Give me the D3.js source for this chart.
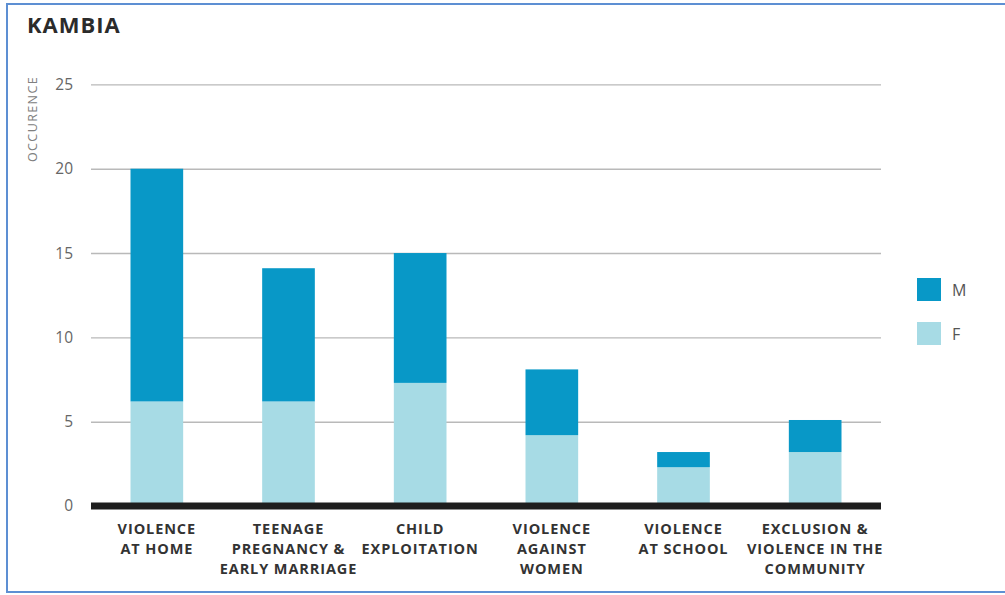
<!DOCTYPE html>
<html>
<head>
<meta charset="utf-8">
<script src="https://cdn.jsdelivr.net/npm/d3@7"></script>
<style>
  html, body { margin: 0; padding: 0; background: #fff; }
  svg { display: block; }
</style>
</head>
<body>
<svg id="chart" width="1005" height="595"></svg>
<script>
const title = "KAMBIA";
const yAxisLabel = "OCCURENCE";
const categories = [
  ["VIOLENCE", "AT HOME"],
  ["TEENAGE", "PREGNANCY &", "EARLY MARRIAGE"],
  ["CHILD", "EXPLOITATION"],
  ["VIOLENCE", "AGAINST", "WOMEN"],
  ["VIOLENCE", "AT SCHOOL"],
  ["EXCLUSION &", "VIOLENCE IN THE", "COMMUNITY"]
];
const seriesF = [6.2, 6.2, 7.3, 4.2, 2.3, 3.2];
const seriesM = [13.8, 7.9, 7.7, 3.9, 0.9, 1.9];
const seriesNames = ["M", "F"];
const yTicks = [0, 5, 10, 15, 20, 25];

const colors = { M: "#0898c7", F: "#a7dbe5" };

const svg = d3.select("#chart");

// frame
svg.append("rect").attr("x", 7).attr("y", 4).attr("width", 1010).attr("height", 588)
  .attr("fill", "none").attr("stroke", "#5d8fd3").attr("stroke-width", 2);

const x0 = 91, x1 = 881, yTop = 84.4, yBot = 506;
const keys = categories.map((c, i) => i);
const x = d3.scaleBand().domain(keys).range([x0, x1]).paddingInner(0.6).paddingOuter(0.3);
const y = d3.scaleLinear().domain([0, 25]).range([yBot, yTop]);

// title
svg.append("text").attr("x", 27).attr("y", 33)
  .attr("font-family", "'Open Sans', sans-serif").attr("font-weight", 700)
  .attr("font-size", 22).attr("letter-spacing", 1).attr("fill", "#2b2b2b").text(title);

// y axis label
svg.append("text").attr("transform", `translate(37,119) rotate(-90)`)
  .attr("text-anchor", "middle").attr("font-family", "'Open Sans', sans-serif")
  .attr("font-size", 12.5).attr("letter-spacing", 1.4).attr("fill", "#808080").text(yAxisLabel);

// gridlines & tick labels via axis
const yAxis = d3.axisLeft(y).tickValues(yTicks).tickSize(-(x1 - x0)).tickPadding(18).tickFormat(d3.format("d"));
const gy = svg.append("g").attr("transform", `translate(${x0},0)`).call(yAxis);
gy.select(".domain").remove();
gy.selectAll(".tick line").attr("stroke", "#b9b9b9").attr("stroke-width", 1.4);
gy.selectAll(".tick text").attr("font-family", "'Open Sans', sans-serif").attr("font-size", 15.5)
  .attr("fill", "#666").attr("x", -18);

// stacked bars
const data = categories.map((c, i) => ({ i, F: seriesF[i], M: seriesM[i] }));
const stack = d3.stack().keys(["F", "M"])(data);
svg.append("g").selectAll("g").data(stack).join("g")
  .attr("fill", d => colors[d.key])
  .selectAll("rect").data(d => d).join("rect")
  .attr("x", d => x(d.data.i))
  .attr("width", x.bandwidth())
  .attr("y", d => y(d[1]))
  .attr("height", d => y(d[0]) - y(d[1]));

// baseline
svg.append("line").attr("x1", x0).attr("x2", x1).attr("y1", y(0)).attr("y2", y(0))
  .attr("stroke", "#1e1e1e").attr("stroke-width", 7);

// x labels
const xl = svg.append("g").selectAll("text").data(categories).join("text")
  .attr("text-anchor", "middle")
  .attr("font-family", "'Open Sans', sans-serif").attr("font-weight", 700)
  .attr("font-size", 14.5).attr("letter-spacing", 0.9).attr("fill", "#333")
  .attr("x", (d, i) => x(i) + x.bandwidth() / 2)
  .attr("y", 534);
xl.selectAll("tspan").data(d => d).join("tspan")
  .attr("x", function () { return d3.select(this.parentNode).attr("x"); })
  .attr("dy", (d, j) => j === 0 ? 0 : 20)
  .text(d => d);

// legend
const leg = svg.append("g").selectAll("g").data(seriesNames).join("g")
  .attr("transform", (d, i) => `translate(917,${278 + i * 44})`);
leg.append("rect").attr("width", 24).attr("height", 23).attr("fill", d => colors[d]);
leg.append("text").attr("x", 35).attr("y", 12).attr("dy", "0.35em")
  .attr("font-family", "'Open Sans', sans-serif").attr("font-size", 16).attr("fill", "#555")
  .text(d => d);
</script>
</body>
</html>
